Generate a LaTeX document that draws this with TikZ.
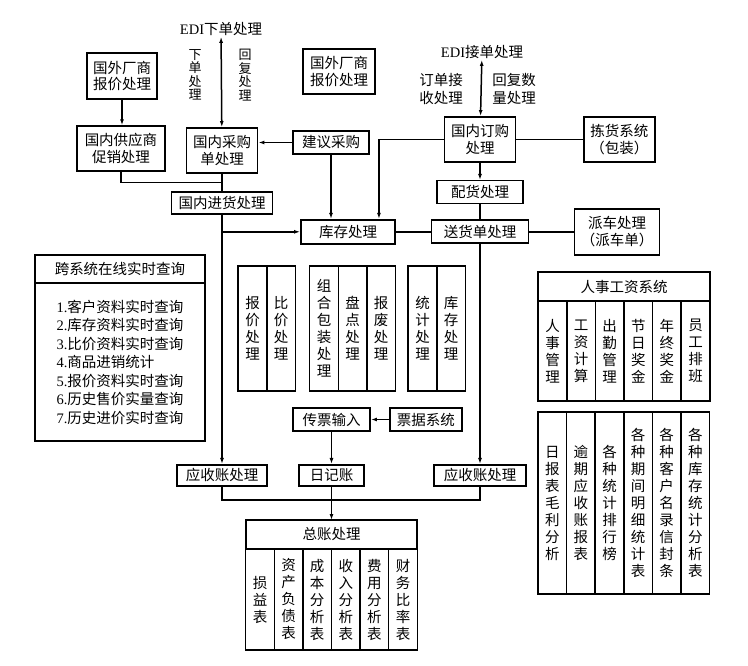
\documentclass[tikz,border=0pt]{standalone}
\usepackage{fontspec}
\setmainfont{Liberation Serif}
\newfontfamily\cjk{Noto Sans CJK SC}
\usetikzlibrary{arrows.meta, positioning, calc}

\begin{document}
\begin{tikzpicture}[
    x=1pt, y=-1pt,
    font=\cjk\fontsize{14.5}{16.5}\selectfont,
    box/.style={rectangle, draw, line width=1.9pt, inner sep=0pt, align=center},
    thinbox/.style={box, line width=1.4pt},
    col/.style={rectangle, draw, line width=1.5pt, inner sep=0pt, outer sep=0pt, minimum width=28.6pt, align=center, font=\cjk\fontsize{14.5}{17}\selectfont},
    txt/.style={align=center, inner sep=1pt},
    edge/.style={-{Latex[length=6pt,width=4pt]}, line width=1.5pt},
    biedge/.style={{Latex[length=6pt,width=4pt]}-{Latex[length=6pt,width=4pt]}, line width=1.5pt},
    link/.style={line width=1.5pt}
]
\useasboundingbox (0,0) rectangle (748,665);

% Purchasing side
\node[txt] (ediOut) at (221,29) {{\rmfamily EDI}下单处理};
\node[txt, font=\cjk\fontsize{13}{13.5}\selectfont] (sendLbl) at (195,75) {下\\单\\处\\理};
\node[txt, font=\cjk\fontsize{13}{13.5}\selectfont] (replyLbl) at (245,75) {回\\复\\处\\理};
\node[box, minimum width=70pt, minimum height=46pt] (abroadA) at (122,76) {国外厂商\\报价处理};
\node[box, minimum width=72pt, minimum height=45pt] (abroadB) at (339,71.5) {国外厂商\\报价处理};
\node[thinbox, minimum width=88pt, minimum height=45pt] (promo) at (121,148.5) {国内供应商\\促销处理};
\node[box, minimum width=71pt, minimum height=45pt] (purchase) at (222,150.5) {国内采购\\单处理};
\node[box, minimum width=76pt, minimum height=23pt] (suggest) at (331,142.5) {建议采购};
\node[box, minimum width=101pt, minimum height=22pt, below=17pt of purchase] (inbound) {国内进货处理};

% Order side
\node[txt] (ediIn) at (482,52) {{\rmfamily EDI}接单处理};
\node[txt, font=\cjk\fontsize{14.5}{18}\selectfont] (recvLbl) at (441,89) {订单接\\收处理};
\node[txt, font=\cjk\fontsize{14.5}{18}\selectfont] (qtyLbl) at (514,89) {回复数\\量处理};
\node[box, minimum width=71pt, minimum height=45pt] (order) at (480,139.5) {国内订购\\处理};
\node[box, minimum width=71pt, minimum height=45pt, right=66.5pt of order] (pick) {拣货系统\\（包装）};
\node[thinbox, minimum width=86pt, minimum height=23pt, below=17pt of order] (alloc) {配货处理};
\node[box, minimum width=97pt, minimum height=23pt, below=15pt of alloc] (ship) {送货单处理};
\node[thinbox, minimum width=85pt, minimum height=46pt, right=44.5pt of ship] (dispatch) {派车处理\\（派车单）};
\node[box, minimum width=94pt, minimum height=24pt] (stock) at (348,0 |- ship) {库存处理};

% Online query
\node[box, outer sep=0pt, minimum width=170pt, minimum height=28pt] (queryHead) at (120,269) {跨系统在线实时查询};
\node[box, outer sep=0pt, minimum width=170pt, minimum height=158pt, below=0pt of queryHead, align=left,
      font=\cjk\fontsize{14.5}{18.5}\selectfont] (queryList) {%
    {\rmfamily 1.}客户资料实时查询\\
    {\rmfamily 2.}库存资料实时查询\\
    {\rmfamily 3.}比价资料实时查询\\
    {\rmfamily 4.}商品进销统计\\
    {\rmfamily 5.}报价资料实时查询\\
    {\rmfamily 6.}历史售价实量查询\\
    {\rmfamily 7.}历史进价实时查询};

% Middle modules
\node[col, minimum height=125pt] (quote) at (252.5,328.5) {报\\价\\处\\理};
\node[col, minimum height=125pt, right=0pt of quote] (compare) {比\\价\\处\\理};
\node[col, minimum height=125pt] (bundle) at (324,328.5) {组\\合\\包\\装\\处\\理};
\node[col, minimum height=125pt, right=0pt of bundle] (count) {盘\\点\\处\\理};
\node[col, minimum height=125pt, right=0pt of count] (scrap) {报\\废\\处\\理};
\node[col, minimum height=125pt] (stat) at (422.5,328.5) {统\\计\\处\\理};
\node[col, minimum height=125pt, right=0pt of stat] (stockp) {库\\存\\处\\理};

% Accounting
\node[box, minimum width=77pt, minimum height=23pt] (voucher) at (331.5,419.5) {传票输入};
\node[box, minimum width=72pt, minimum height=23pt, right=18pt of voucher] (bills) {票据系统};
\node[box, minimum width=65pt, minimum height=21pt, below=32pt of voucher] (journal) {日记账};
\node[box, minimum width=90pt, minimum height=21pt] (arA) at (222,0 |- journal) {应收账处理};
\node[box, minimum width=92pt, minimum height=21pt] (arB) at (480,0 |- journal) {应收账处理};
\coordinate (join) at (331.5,500);

\node[box, outer sep=0pt, minimum width=171.6pt, minimum height=29pt] (ledgerHead) at (331.5,534.5) {总账处理};
\node[col, minimum height=101pt, anchor=north west] (loss) at (ledgerHead.south west) {损\\益\\表};
\node[col, minimum height=101pt, right=0pt of loss] (assets) {资\\产\\负\\债\\表};
\node[col, minimum height=101pt, right=0pt of assets] (cost) {成\\本\\分\\析\\表};
\node[col, minimum height=101pt, right=0pt of cost] (income) {收\\入\\分\\析\\表};
\node[col, minimum height=101pt, right=0pt of income] (expense) {费\\用\\分\\析\\表};
\node[col, minimum height=101pt, right=0pt of expense] (ratio) {财\\务\\比\\率\\表};

% Personnel and reports
\node[box, outer sep=0pt, minimum width=171.6pt, minimum height=29pt] (hrHead) at (624,286.5) {人事工资系统};
\node[col, minimum height=100pt, anchor=north west] (hrStaff) at (hrHead.south west) {人\\事\\管\\理};
\node[col, minimum height=100pt, right=0pt of hrStaff] (hrPay) {工\\资\\计\\算};
\node[col, minimum height=100pt, right=0pt of hrPay] (hrAttend) {出\\勤\\管\\理};
\node[col, minimum height=100pt, right=0pt of hrAttend] (hrHoliday) {节\\日\\奖\\金};
\node[col, minimum height=100pt, right=0pt of hrHoliday] (hrBonus) {年\\终\\奖\\金};
\node[col, minimum height=100pt, right=0pt of hrBonus] (hrShift) {员\\工\\排\\班};

\node[col, minimum height=182pt, anchor=north west] (repDaily) at (538,412) {日\\报\\表\\毛\\利\\分\\析};
\node[col, minimum height=182pt, right=0pt of repDaily] (repOverdue) {逾\\期\\应\\收\\账\\报\\表};
\node[col, minimum height=182pt, right=0pt of repOverdue] (repRank) {各\\种\\统\\计\\排\\行\\榜};
\node[col, minimum height=182pt, right=0pt of repRank] (repPeriod) {各\\种\\期\\间\\明\\细\\统\\计\\表};
\node[col, minimum height=182pt, right=0pt of repPeriod] (repClient) {各\\种\\客\\户\\名\\录\\信\\封\\条};
\node[col, minimum height=182pt, right=0pt of repClient] (repStock) {各\\种\\库\\存\\统\\计\\分\\析\\表};

% Edges
\draw[biedge] (purchase) -- (ediOut);
\draw[edge] (abroadA) -- (abroadA |- promo.north);
\draw[edge] (suggest.west) -- (suggest.west -| purchase.east);
\draw[link] (promo.south) |- ($(purchase.south)!0.5!(inbound.north)$);
\draw[link] (purchase) -- (inbound);
\draw[edge] (inbound.south) -- (inbound.south |- arA.north);
\draw[edge] (inbound.south |- stock.west) -- (stock.west);
\draw[edge] (suggest.south) -- (suggest.south |- stock.north);
\draw[edge] (order.west) -| ($(stock.north east)+(-17pt,0pt)$);
\draw[biedge] (order) -- (ediIn);
\draw[link] (order) -- (pick);
\draw[edge] (order) -- (alloc);
\draw[link] (alloc) -- (ship);
\draw[link] (stock) -- (ship);
\draw[link] (ship) -- (dispatch);
\draw[edge] (ship.south) -- (ship.south |- arB.north);
\draw[edge] (bills) -- (voucher);
\draw[edge] (voucher) -- (journal);
\draw[link] (arA.south) |- (join) -| (arB.south);
\draw[edge] (journal.south) -- (ledgerHead.north);

\end{tikzpicture}
\end{document}
